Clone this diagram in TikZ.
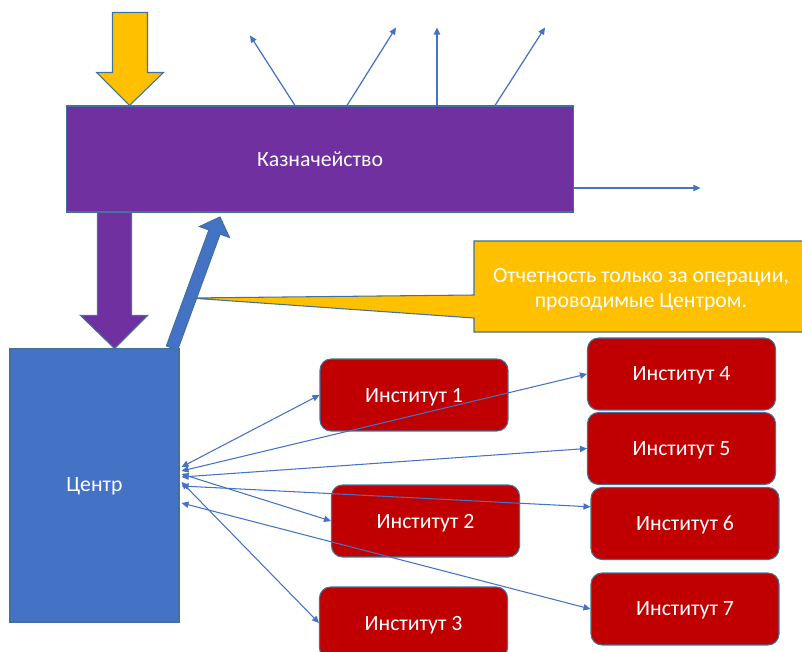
\documentclass[tikz,border=0pt]{standalone}
\usepackage{fontspec}
\setmainfont{Carlito}
\usepackage{tikz}
\usetikzlibrary{positioning,arrows.meta,calc}
\definecolor{treaspurple}{RGB}{112, 48, 160}
\definecolor{centreblue}{RGB}{68, 114, 196}
\definecolor{instred}{RGB}{192, 0, 0}
\definecolor{notegold}{RGB}{255, 192, 0}
\definecolor{edgeblue}{RGB}{65, 113, 156}

\begin{document}
\begin{tikzpicture}[
  x=0.02cm, y=-0.02cm,
  font=\fontsize{12.4}{14}\selectfont,
  box/.style={
    draw=edgeblue, line width=0.6pt, text=white,
    align=center, inner sep=2pt, text depth=0pt
  },
  inst/.style={
    box, fill=instred, rounded corners=0.22cm,
    minimum width=3.76cm, minimum height=1.44cm
  },
  blockarr/.style={draw=edgeblue, line width=0.6pt},
  arr/.style={-{Triangle[length=4pt, width=3.6pt]}, line width=0.7pt, centreblue},
  link/.style={{Triangle[length=4pt, width=3.6pt]}-{Triangle[length=4pt, width=3.6pt]},
    line width=0.6pt, centreblue}
]
\useasboundingbox (0,0) rectangle (802,652);

%% ── TREASURY AND CENTRE ──
\node[box, fill=treaspurple, minimum width=10.16cm, minimum height=2.12cm]
  (K) at (320,159) {Казначейство};
\node[box, fill=centreblue, minimum width=3.38cm, minimum height=5.48cm]
  (C) at (94.5,485) {Центр};

%% ── INSTITUTES ──
\node[inst] (I1) at (414,395)   {Институт 1};
\node[inst] (I2) at (425.5,521) {Институт 2};
\node[inst] (I3) at (413.5,623) {Институт 3};
\node[inst] (I4) at (681.5,374) {Институт 4};
\node[inst] (I5) at (681.5,448.5) {Институт 5};
\node[inst] (I6) at (685,523.5) {Институт 6};
\node[inst] (I7) at (685,609)   {Институт 7};

%% ── BLOCK ARROWS ──
\draw[blockarr, fill=notegold] ($(K.north west)+(64,0)$) -- ++(-33,-33) -- ++(16,0)
  -- ++(0,-60) -- ++(35,0) -- ++(0,60) -- ++(16,0) -- cycle;
\draw[blockarr, fill=treaspurple] ($(K.south west)+(32,0)$) -- ++(34,0) -- ++(0,103)
  -- ++(16,0) -- ++(-33,33) -- ++(-34,-33) -- ++(17,0) -- cycle;
\draw[blockarr, fill=centreblue] (166.4,345.9) -- (208.9,229.9) -- (199.5,226.5)
  -- (220,217) -- (229.5,237.5) -- (220.1,234.1) -- (177.6,350.1) -- cycle;

%% ── CALLOUT ──
\coordinate (tip) at (190,298);
\draw[blockarr, fill=notegold] (474,318) -- (tip) -- (474,295) -- (474,241)
  -- (812,241) -- (812,332) -- (474,332) -- cycle;
\node[text=white, align=center] (note) at (641,290)
  {Отчетность только за операции,\\[0pt]проводимые Центром.};

%% ── OUTGOING ARROWS ──
\draw[arr] ($(K.north)+(-25,0)$) -- ++(-45,-70);
\draw[arr] ($(K.north)+(27,0)$) -- ++(49,-78);
\draw[arr] ($(K.north)+(117,0)$) -- ++(0,-78);
\draw[arr] ($(K.north)+(175,0)$) -- ++(50,-78);
\draw[arr] ($(K.east)+(0,29)$) -- ++(126,0);

%% ── CENTRE LINKS ──
\draw[link] ($(C.east)+(2,-18)$) -- (I1.west);
\draw[link] ($(C.east)+(2,-14)$) -- (I4.west);
\draw[link] ($(C.east)+(2,-8)$)  -- (I5.west);
\draw[link] ($(C.east)+(2,-11)$) -- (I2.west);
\draw[link] ($(C.east)+(2,1)$)   -- (I6.170);
\draw[link] ($(C.east)+(2,-3)$)  -- (I3.west);
\draw[link] ($(C.east)+(2,18)$)  -- (I7.west);

\end{tikzpicture}
\end{document}
